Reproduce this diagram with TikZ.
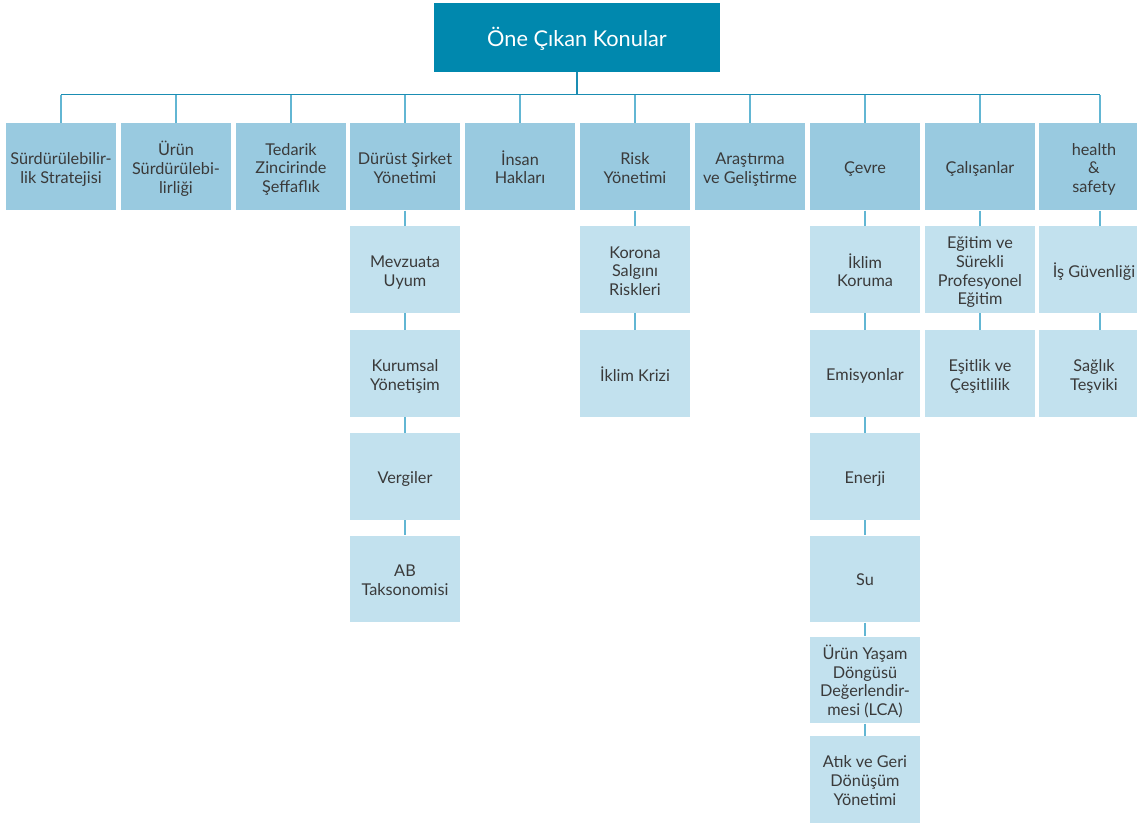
\documentclass[tikz,border=0pt]{standalone}
\usepackage{fontspec}
\setmainfont{Lato}
\definecolor{topc}{HTML}{0088AE}
\definecolor{colc}{HTML}{99CAE0}
\definecolor{childc}{HTML}{C2E1EE}
\definecolor{txtc}{HTML}{3A3A3A}
\definecolor{hlinec}{HTML}{1A8DB3}
\definecolor{vlinec}{HTML}{62B6D3}
\newcommand\boxtext[1]{\raisebox{-2.4pt}[\height][\depth]{\begin{tabular}{@{}c@{}}#1\end{tabular}}}
\begin{document}
\begin{tikzpicture}[x=0.75pt,y=-0.75pt,
  topbox/.style={fill=topc,text=white,minimum width=214.5pt,minimum height=51.75pt,inner sep=0pt,font=\fontsize{16.3}{19}\selectfont},
  colbox/.style={fill=colc,text=txtc,minimum width=82.5pt,minimum height=65.6pt,inner sep=0pt,font=\fontsize{12.2}{14}\selectfont},
  childbox/.style={fill=childc,text=txtc,minimum width=82.5pt,minimum height=65pt,inner sep=0pt,font=\fontsize{12.2}{14}\selectfont},
  hline/.style={draw=hlinec,line width=1.1pt},
  vline/.style={draw=vlinec,line width=1.1pt}]
\useasboundingbox (0,0) rectangle (1137,823);
\node[topbox] (top) at (577,37.5) {\raisebox{-1pt}[\height][\depth]{Öne Çıkan Konular}};
% columns
\node[colbox] (c1) at (61,166.75) {\boxtext{Sürdürülebilir-\\lik Stratejisi}};
\node[colbox] (c2) at (176,166.75) {\boxtext{Ürün\\Sürdürülebi-\\lirliği}};
\node[colbox] (c3) at (291,166.75) {\boxtext{Tedarik\\Zincirinde\\Şeffaflık}};
\node[colbox] (c4) at (405,166.75) {\boxtext{Dürüst Şirket\\Yönetimi}};
\node[colbox] (c5) at (520,166.75) {\boxtext{İnsan\\Hakları}};
\node[colbox] (c6) at (635,166.75) {\boxtext{Risk\\Yönetimi}};
\node[colbox] (c7) at (750,166.75) {\boxtext{Araştırma\\ve Geliştirme}};
\node[colbox] (c8) at (865,166.75) {\boxtext{Çevre}};
\node[colbox] (c9) at (980,166.75) {\boxtext{Çalışanlar}};
\node[colbox] (c10) at (1094,166.75) {\boxtext{health\\\&\\safety}};
% children column 4
\node[childbox] (d1) at (405,269.75) {\boxtext{Mevzuata\\Uyum}};
\node[childbox] (d2) at (405,373.75) {\boxtext{Kurumsal\\Yönetişim}};
\node[childbox] (d3) at (405,476.5) {\boxtext{Vergiler}};
\node[childbox] (d4) at (405,579) {\boxtext{AB\\Taksonomisi}};
% children column 6
\node[childbox] (r1) at (635,269.75) {\boxtext{Korona\\Salgını\\Riskleri}};
\node[childbox] (r2) at (635,373.75) {\boxtext{İklim Krizi}};
% children column 8
\node[childbox] (e1) at (865,269.75) {\boxtext{İklim\\Koruma}};
\node[childbox] (e2) at (865,373.75) {\boxtext{Emisyonlar}};
\node[childbox] (e3) at (865,476.5) {\boxtext{Enerji}};
\node[childbox] (e4) at (865,579) {\boxtext{Su}};
\node[childbox] (e5) at (865,680) {\boxtext{Ürün Yaşam\\Döngüsü\\Değerlendir-\\mesi (LCA)}};
\node[childbox] (e6) at (865,779.5) {\boxtext{Atık ve Geri\\Dönüşüm\\Yönetimi}};
% children column 9
\node[childbox] (w1) at (980,269.75) {\boxtext{Eğitim ve\\Sürekli\\Profesyonel\\Eğitim}};
\node[childbox] (w2) at (980,373.75) {\boxtext{Eşitlik ve\\Çeşitlilik}};
% children column 10
\node[childbox] (h1) at (1094,269.75) {\boxtext{İş Güvenliği}};
\node[childbox] (h2) at (1094,373.75) {\boxtext{Sağlık\\Teşviki}};
% connectors
\draw[hline] (top.south) -- ++(0,22.5) coordinate (bar);
\foreach \c in {c1,c2,c3,c4,c5,c6,c7,c8,c9}
  \draw[vline] (\c.north) -- (\c.north |- bar);
\draw[vline] ([xshift=4.5pt]c10.north) -- ([xshift=4.5pt]c10.north |- bar);
\draw[hline] (c1.north |- bar) -- ([xshift=4.5pt]c10.north |- bar);
\foreach \a/\b in {c4/d1,d1/d2,d2/d3,d3/d4,c6/r1,r1/r2,c8/e1,e1/e2,e2/e3,e3/e4,e4/e5,e5/e6,c9/w1,w1/w2}
  \draw[vline] (\a.south) -- (\b.north);
\draw[vline] ([xshift=4.5pt]c10.south) -- ([xshift=4.5pt]h1.north);
\draw[vline] ([xshift=4.5pt]h1.south) -- ([xshift=4.5pt]h2.north);
\end{tikzpicture}
\end{document}
